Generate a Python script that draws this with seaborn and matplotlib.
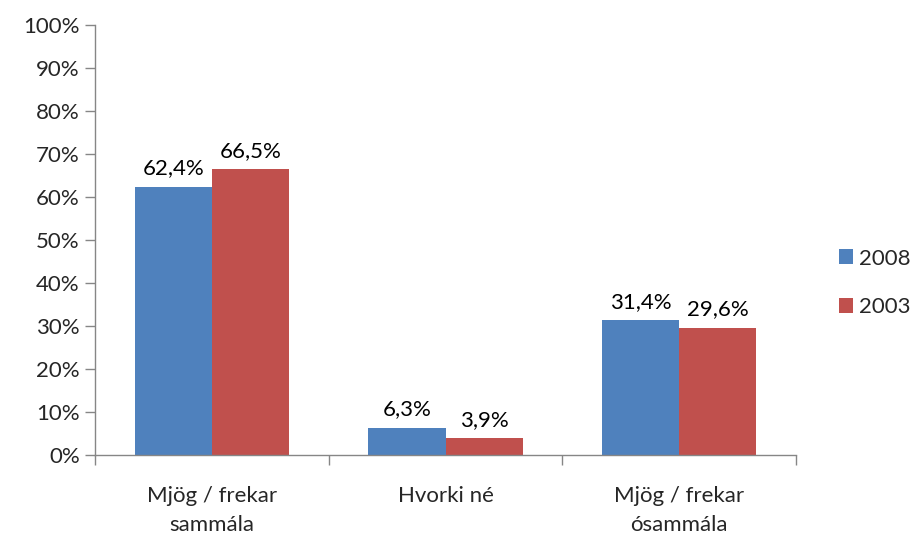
import numpy as np
import pandas as pd
import seaborn as sns
import matplotlib.pyplot as plt
from matplotlib.ticker import FixedLocator

categories = ['Mjög / frekar\nsammála', 'Hvorki né', 'Mjög / frekar\nósammála']
years = ['2008', '2003']
vals_2008 = [62.4, 6.3, 31.4]
vals_2003 = [66.5, 3.9, 29.6]
y_ticks = list(range(0, 101, 10))

df = pd.DataFrame({
    'cat': categories * 2,
    'year': [years[0]] * 3 + [years[1]] * 3,
    'val': vals_2008 + vals_2003,
})

sns.set_style('white')
plt.rcParams['font.family'] = ['Lato', 'DejaVu Sans']
fs = 16

fig = plt.figure(figsize=(9.17, 5.36), dpi=100)
ax = fig.add_axes([95 / 917, 1 - 455 / 536, 701 / 917, 430 / 536])

sns.barplot(data=df, x='cat', y='val', hue='year', order=categories,
            hue_order=years, palette=['#4F81BD', '#C0504D'], width=0.66,
            saturation=1, ax=ax, edgecolor='none')

for cont in ax.containers:
    ax.bar_label(cont, labels=[('%.1f%%' % v.get_height()).replace('.', ',') for v in cont],
                 padding=6, fontsize=fs, color='black')

ax.set_ylim(0, 100)
ax.set_xlim(-0.5, 2.5)
ax.set_yticks(y_ticks)
ax.set_yticklabels(['%d%%' % t for t in y_ticks])
ax.set_xlabel('')
ax.set_ylabel('')
for lab in ax.get_xticklabels():
    lab.set_multialignment('center')
    lab.set_linespacing(1.6)

ax.xaxis.set_minor_locator(FixedLocator([-0.5, 0.5, 1.5, 2.5]))
ax.tick_params(axis='x', which='major', length=0, pad=22, labelsize=fs)
ax.tick_params(axis='x', which='minor', length=7, color='#868686', width=1, direction='out', bottom=True)
ax.tick_params(axis='y', length=7, color='#868686', width=1, direction='out', left=True, labelsize=fs, pad=4)

for s in ['top', 'right']:
    ax.spines[s].set_visible(False)
for s in ['left', 'bottom']:
    ax.spines[s].set_color('#868686')
    ax.spines[s].set_linewidth(1)

leg = ax.legend(loc='center left', bbox_to_anchor=(839 / 917, 1 - 283 / 536),
                bbox_transform=fig.transFigure, frameon=False, fontsize=fs,
                borderpad=0, borderaxespad=0,
                handlelength=0.65, handleheight=0.65, handletextpad=0.25, labelspacing=1.3,
                title=None)

fig.savefig('out.png', dpi=100)
